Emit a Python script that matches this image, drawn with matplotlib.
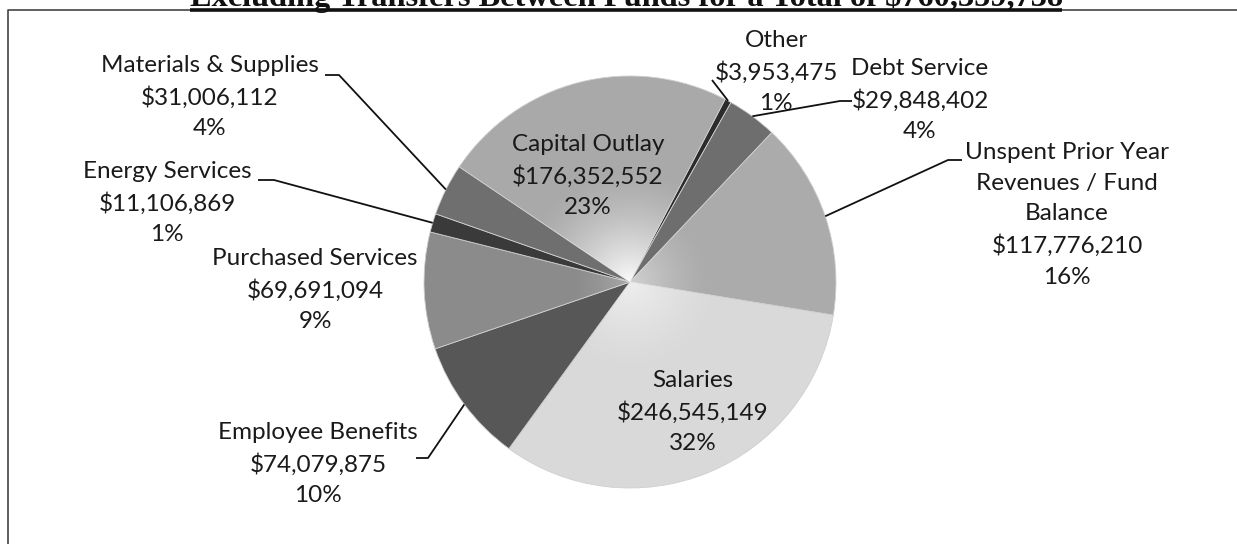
import numpy as np
import matplotlib
matplotlib.use("Agg")
import matplotlib.pyplot as plt

# slices in clockwise order, starting at "Other"
names = ["Other", "Debt Service", "Unspent Prior Year\nRevenues / Fund\nBalance", "Salaries",
         "Employee Benefits", "Purchased Services", "Energy Services", "Materials & Supplies",
         "Capital Outlay"]
values = [3953475, 29848402, 117776210, 246545149, 74079875, 69691094, 11106869, 31006112, 176352552]
pcts = ["1%", "4%", "16%", "32%", "10%", "9%", "1%", "4%", "23%"]
colors = ["#2c2c2c", "#6e6e6e", "#ababab", "#d9d9d9", "#575757", "#8b8b8b", "#3a3a3a", "#6f6f6f", "#a9a9a9"]
total = sum(values)
title = "Excluding Transfers Between Funds for a Total of ${:,}".format(total)

W, H = 1237, 544
fig = plt.figure(figsize=(W / 100, H / 100), dpi=100)
ax = fig.add_axes([0, 0, 1, 1])

def Y(y):
    # pixel row (from top) -> data y
    return H - y

cx, cy, R = 630, Y(282), 206
wedges, _ = ax.pie(values, colors=colors, startangle=62.5, counterclock=False,
                   center=(cx, cy), radius=R, frame=True,
                   wedgeprops=dict(linewidth=0.6, edgecolor="#cfcfcf"))
ax.set_xlim(0, W)
ax.set_ylim(0, H)
ax.set_aspect("equal")
ax.axis("off")

# light radial glow towards the centre of the lighter slices
n = 400
g = np.linspace(-1, 1, n)
gx, gy = np.meshgrid(g, g)
rr = np.sqrt(gx ** 2 + gy ** 2)
for idx, strength, reach in [(8, 0.95, 0.55), (3, 0.55, 0.45), (2, 0.45, 0.4), (5, 0.25, 0.3)]:
    img = np.ones((n, n, 4))
    img[..., 3] = np.clip(1 - rr / reach, 0, 1) ** 1.4 * strength
    im = ax.imshow(img, extent=(cx - R, cx + R, cy - R, cy + R), zorder=3, interpolation="bilinear")
    im.set_clip_path(wedges[idx])

def edge_pt(i):
    w = wedges[i]
    a = np.deg2rad((w.theta1 + w.theta2) / 2)
    return cx + R * np.cos(a), cy + R * np.sin(a)

font = dict(family=["Lato", "DejaVu Sans"], fontsize=17.5, linespacing=1.56, color="#1a1a1a",
            ha="center", va="center", zorder=5)

label_xy = [(776, 72), (920, 100), (1067, 215), (693, 412), (318, 464),
            (315, 290), (167, 203), (210, 97), (588, 176)]
for i, (lx, ly) in enumerate(label_xy):
    ax.text(lx, Y(ly), "{}\n${:,}\n{}".format(names[i], values[i], pcts[i]), **font)

# leader lines: label anchor (and elbow) -> slice edge
leaders = {
    0: [(712, 80)],
    1: [(852, 101), (840, 101)],
    2: [(962, 160), (948, 160)],
    4: [(416, 458), (428, 458)],
    6: [(258, 180), (274, 180)],
    7: [(325, 75), (339, 75)],
}
for i, pts in leaders.items():
    ex, ey = edge_pt(i)
    xs = [p[0] for p in pts] + [ex]
    ys = [Y(p[1]) for p in pts] + [ey]
    ax.plot(xs, ys, color="#111111", lw=1.3, zorder=6, solid_capstyle="butt")

# frame
ax.plot([8, 8, W], [0, Y(10), Y(10)], color="#444444", lw=1.2, zorder=6)

# title (cut off at the top of the page), underlined
t = fig.text(190 / W, 1 - 6 / H, title, family="Liberation Serif", weight="bold",
             fontsize=20, ha="left", va="baseline", color="#111111")
fig.canvas.draw()
wpx = t.get_window_extent().width
t.set_fontsize(20 * 872 / wpx)
ax.plot([190, 1062], [Y(10), Y(10)], color="#111111", lw=2.6, zorder=7, solid_capstyle="butt")

fig.savefig("out.png", dpi=100)
